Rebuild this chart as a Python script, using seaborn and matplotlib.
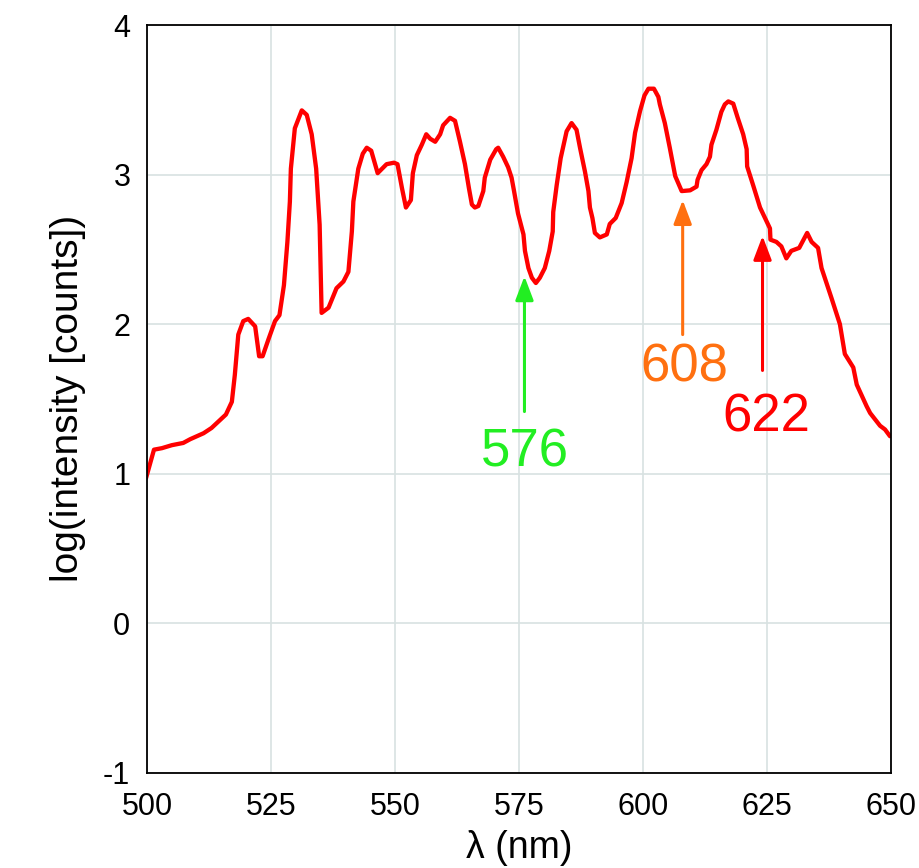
import pandas as pd
import seaborn as sns
import matplotlib.pyplot as plt

wavelength = [499.8, 501.4, 503.0, 505.0, 507.3, 508.7, 511.4, 513.0, 515.9, 517.1,
              517.7, 518.4, 519.4, 520.4, 521.8, 522.6, 523.3, 524.5, 525.8, 526.7,
              527.6, 528.3, 528.8, 529.0, 529.8, 531.2, 532.2, 533.2, 534.1, 534.8,
              535.2, 536.6, 538.2, 539.6, 540.6, 541.3, 541.6, 542.6, 543.5, 544.3,
              545.2, 546.5, 548.3, 549.8, 550.5, 551.4, 552.2, 553.2, 553.6, 554.4,
              555.4, 556.3, 557.1, 558.1, 559.1, 559.7, 561.1, 562.1, 563.1, 564.1,
              564.9, 565.5, 566.1, 566.8, 567.8, 568.1, 569.2, 570.4, 570.8, 571.8,
              572.8, 573.5, 574.0, 574.8, 575.9, 576.2, 576.9, 577.6, 578.4, 579.2,
              580.2, 581.1, 581.8, 581.9, 582.6, 583.4, 584.6, 585.6, 586.6, 587.3,
              588.3, 589.0, 589.3, 589.8, 590.3, 591.3, 592.7, 593.3, 594.5, 595.7,
              596.7, 597.7, 598.4, 599.4, 600.3, 601.1, 602.2, 603.1, 603.4, 604.4,
              605.4, 605.8, 606.5, 607.8, 609.5, 610.8, 611.0, 611.8, 612.8, 613.5,
              613.8, 614.8, 615.8, 616.5, 617.2, 618.2, 619.1, 620.2, 620.9, 621.0,
              622.2, 623.6, 624.6, 625.6, 625.7, 626.9, 627.9, 628.9, 629.9, 631.5,
              633.1, 634.0, 635.3, 636.0, 638.0, 639.7, 640.7, 642.4, 643.1, 645.1,
              645.8, 647.8, 648.8, 649.8]
log_intensity = [0.97, 1.16, 1.17, 1.19, 1.205, 1.23, 1.27, 1.305, 1.395, 1.48,
                 1.66, 1.93, 2.02, 2.035, 1.985, 1.785, 1.785, 1.90, 2.02, 2.06,
                 2.26, 2.55, 2.82, 3.04, 3.31, 3.43, 3.40, 3.27, 3.04, 2.665,
                 2.075, 2.11, 2.24, 2.285, 2.35, 2.62, 2.82, 3.04, 3.14, 3.18,
                 3.16, 3.01, 3.07, 3.08, 3.07, 2.91, 2.78, 2.83, 3.01, 3.13,
                 3.20, 3.27, 3.24, 3.22, 3.27, 3.33, 3.38, 3.36, 3.22, 3.07,
                 2.91, 2.80, 2.78, 2.79, 2.89, 2.98, 3.10, 3.17, 3.18, 3.12,
                 3.05, 2.98, 2.89, 2.74, 2.60, 2.49, 2.375, 2.31, 2.275, 2.31,
                 2.375, 2.49, 2.62, 2.75, 2.93, 3.11, 3.29, 3.345, 3.30, 3.18,
                 3.02, 2.89, 2.78, 2.71, 2.61, 2.58, 2.60, 2.67, 2.71, 2.81,
                 2.95, 3.11, 3.28, 3.425, 3.53, 3.575, 3.575, 3.52, 3.47, 3.345,
                 3.18, 3.11, 2.99, 2.89, 2.895, 2.92, 2.965, 3.03, 3.07, 3.12,
                 3.20, 3.30, 3.42, 3.47, 3.49, 3.475, 3.38, 3.27, 3.17, 3.055,
                 2.93, 2.78, 2.71, 2.64, 2.565, 2.55, 2.52, 2.44, 2.49, 2.51,
                 2.61, 2.55, 2.51, 2.375, 2.175, 2.00, 1.80, 1.71, 1.595, 1.45,
                 1.405, 1.32, 1.295, 1.25]

# marked lines
marks = ['576', '608', '622']
mark_x = [576.1, 608.0, 624.1]
mark_tail = [1.415, 1.93, 1.69]
mark_tip = [2.32, 2.83, 2.59]
mark_text_x = [576.1, 608.3, 624.9]
mark_text_y = [1.14, 1.71, 1.375]
mark_colors = ['#22ee22', '#ff7010', '#ff0000']

sns.set_style('white')
plt.rcParams['font.family'] = ['Liberation Sans', 'DejaVu Sans']
plt.rcParams['axes.unicode_minus'] = False

df = pd.DataFrame({'wl': wavelength, 'logI': log_intensity})

fig = plt.figure(figsize=(9.19, 8.68), dpi=100)
ax = fig.add_axes([0.16, 0.110, 0.8095, 0.861])

sns.lineplot(data=df, x='wl', y='logI', ax=ax, color='#ff0000', linewidth=3.1)

for lab, x, y0, y1, tx, ty, c in zip(marks, mark_x, mark_tail, mark_tip,
                                     mark_text_x, mark_text_y, mark_colors):
    ax.annotate('', xy=(x, y1), xytext=(x, y0),
                arrowprops=dict(arrowstyle='-|>,head_length=1.0,head_width=0.38',
                                mutation_scale=14.5, color=c, lw=2.2,
                                shrinkA=0, shrinkB=0))
    ax.text(tx, ty, lab, color=c, fontsize=38, ha='center', va='center')

ax.set_xlim(500, 650)
ax.set_ylim(-1, 4)
ax.set_xticks([500, 525, 550, 575, 600, 625, 650])
ax.set_yticks([-1, 0, 1, 2, 3, 4])
ax.grid(True, color='#d8e2e2', linewidth=1.2)
ax.set_axisbelow(True)
for s in ax.spines.values():
    s.set_color('black')
    s.set_linewidth(1.3)
ax.tick_params(axis='both', length=0, labelsize=22, labelcolor='black')
ax.tick_params(axis='x', pad=14)
ax.tick_params(axis='y', pad=12)
ax.set_xlabel('λ (nm)', fontsize=27, labelpad=6, color='black')
ax.set_ylabel('log(intensity [counts])', fontsize=28, labelpad=12, color='black')

plt.savefig('out.png', dpi=100)
